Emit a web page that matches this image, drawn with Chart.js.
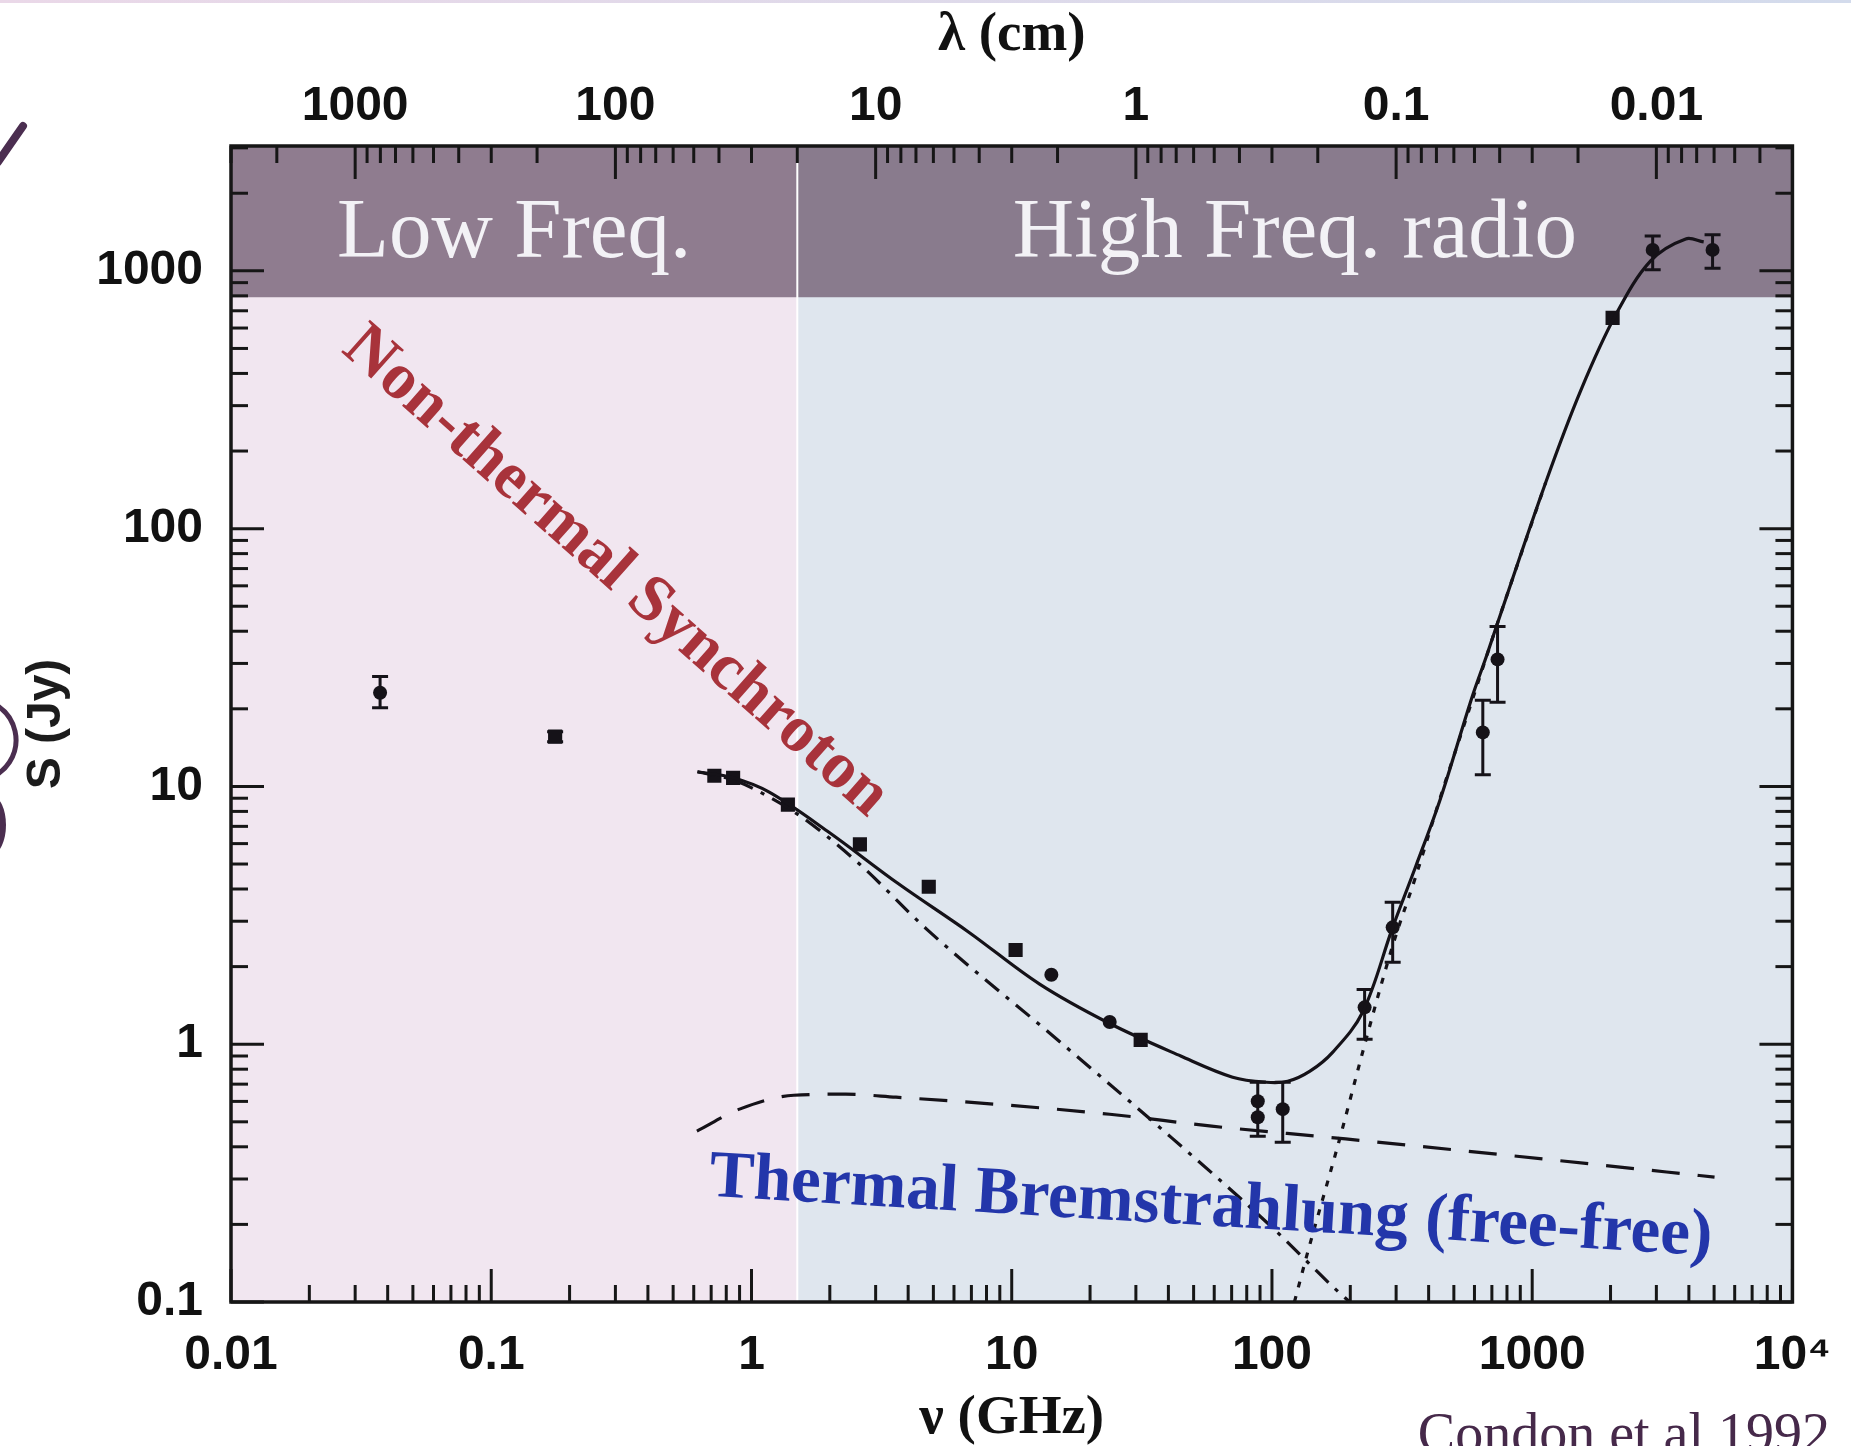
<!DOCTYPE html>
<html>
<head>
<meta charset="utf-8">
<title>Espectro rádio - Condon et al 1992</title>
<script src="https://cdn.jsdelivr.net/npm/chart.js@4.4.1/dist/chart.umd.min.js"></script>
<style>
    html, body { margin: 0; padding: 0; background: #ffffff; }
    #wrap { position: relative; width: 1851px; height: 1446px; }
</style>
</head>
<body>
<div id="wrap"><canvas id="grafico" width="1851" height="1446"></canvas></div>
<script>
// Eixos
const nuTicks = [0.01, 0.1, 1, 10, 100, 1000, 10000];
const nuTickLabels = ['0.01', '0.1', '1', '10', '100', '1000', '10⁴'];
const lambdaTicks = [1000, 100, 10, 1, 0.1, 0.01];
const lambdaTickLabels = ['1000', '100', '10', '1', '0.1', '0.01'];
const fluxTicks = [0.1, 1, 10, 100, 1000];
const fluxTickLabels = ['0.1', '1', '10', '100', '1000'];
const minorSteps = [2, 3, 4, 5, 6, 7, 8, 9];

const nuMin = 0.01, nuMax = 10000;
const fluxMin = 0.1, fluxMax = 3050;
const lambdaMin = 0.003, lambdaMax = 3000;

// Regiões do fundo
const splitNu = 1.5;          // divisão Low / High Freq.
const bandFloorFlux = 790;    // base da faixa roxa

// Curva total (linha cheia)
const totalNu   = [0.62, 0.85, 1.17, 1.96, 3.66, 6.84, 12.8, 23.9, 44.6, 70.6, 95, 115, 140, 171, 223, 291, 357, 443, 583, 667, 730, 1127, 1536, 2094, 2851, 3890, 4560];
const totalFlux = [11.4, 10.8, 9.5, 6.7, 4.2, 2.72, 1.71, 1.2, 0.9, 0.745, 0.712, 0.718, 0.786, 0.93, 1.33, 2.84, 4.9, 8.9, 21.7, 32, 42, 151, 343, 675, 1093, 1330, 1295];

// Síncrotron (traço-ponto)
const synchNu   = [0.62, 0.85, 1.17, 1.59, 2.6, 4.72, 13.9, 35.8, 100, 174, 199];
const synchFlux = [11.4, 10.6, 9.1, 7.5, 5.0, 2.79, 1.11, 0.49, 0.195, 0.113, 0.1];

// Free-free (tracejada)
const freeNu   = [0.617, 0.9, 1.455, 2.3, 3.59, 9.66, 23.8, 58.7, 192, 1127, 5020];
const freeFlux = [0.46, 0.56, 0.634, 0.64, 0.623, 0.58, 0.535, 0.481, 0.429, 0.358, 0.305];

// Poeira (pontilhada)
const dustNu   = [122, 136, 182, 223, 262, 296, 357, 441, 583, 730, 1127];
const dustFlux = [0.1, 0.151, 0.429, 0.93, 1.68, 2.55, 4.48, 8.9, 21, 42, 151];

// Medidas (círculos)
const circleNu   = [0.0374, 14.2, 23.8, 88.2, 88.2, 110, 227, 291, 646, 736, 2904, 4933];
const circleFlux = [23.1, 1.86, 1.22, 0.601, 0.521, 0.56, 1.39, 2.84, 16.2, 31.1, 1206, 1206];
const circleLo   = [20.2, null, null, 0.44, null, 0.417, 1.045, 2.08, 11.1, 21.2, 1009, 1023];
const circleHi   = [26.7, null, null, 0.712, null, 0.712, 1.63, 3.55, 21.6, 41.7, 1365, 1380];

// Medidas (quadrados)
const squareNu   = [0.176, 0.72, 0.85, 1.38, 2.61, 4.8, 10.35, 31.3, 2037];
const squareFlux = [15.6, 11.0, 10.8, 8.5, 5.96, 4.08, 2.32, 1.04, 657];
const squareLo   = [14.9, null, null, null, null, null, null, null, null];
const squareHi   = [16.3, null, null, null, null, null, null, null, null];

// Textos
const synchLabel = { text: 'Non-thermal Synchroton', nu: 0.30, flux: 68, angle: 41.5 };
const freeLabel  = { text: 'Thermal Bremstrahlung (free-free)', nu: 58.2, flux: 0.231, angle: 3.4 };

const corTinta = '#151218';

function pares(xs, ys) {
    return xs.map((x, i) => ({ x: x, y: ys[i] }));
}

// Ticks maiores + menores de uma escala log
function ticksLog(majors, lo, hi) {
    const lista = majors.map(v => ({ value: v, major: true }));
    const k0 = Math.floor(Math.log10(lo));
    const k1 = Math.floor(Math.log10(hi));
    for (let k = k0; k <= k1; k++) {
        minorSteps.forEach(m => {
            const v = m * Math.pow(10, k);
            if (v >= lo * 0.999 && v <= hi * 1.001) lista.push({ value: v, major: false });
        });
    }
    return lista.filter(t => t.value >= lo * 0.999 && t.value <= hi * 1.001).sort((a, b) => a.value - b.value);
}

function rotulo(majors, labels) {
    return function (value) {
        const i = majors.findIndex(m => Math.abs(Math.log10(m) - Math.log10(value)) < 1e-6);
        return i >= 0 ? labels[i] : '';
    };
}

const fonteTicks = { family: '"Liberation Sans", Arial, sans-serif', size: 48, weight: 'bold' };
const fonteTicksBaixo = { family: '"Liberation Sans", Arial, sans-serif', size: 48, weight: 'bold', lineHeight: 1.4 };
const fonteTitulo = { family: '"Liberation Serif", "DejaVu Serif", serif', size: 55, weight: 'bold', lineHeight: 1 };

const pluginFigura = {
    id: 'figura',
    beforeDraw(chart) {
        const ctx = chart.ctx;
        ctx.save();
        ctx.fillStyle = '#ffffff';
        ctx.fillRect(0, 0, chart.width, chart.height);
        const g = ctx.createLinearGradient(0, 0, chart.width, 0);
        g.addColorStop(0, '#ead8e8');
        g.addColorStop(1, '#d3dbec');
        ctx.fillStyle = g;
        ctx.fillRect(0, 0, chart.width, 3);
        ctx.restore();
    },
    beforeDatasetsDraw(chart) {
        const { ctx, chartArea: a, scales } = chart;
        const xs = scales.x.getPixelForValue(splitNu);
        const yb = scales.y.getPixelForValue(bandFloorFlux);
        ctx.save();
        ctx.fillStyle = '#f1e6f0';
        ctx.fillRect(a.left, a.top, xs - a.left, a.bottom - a.top);
        ctx.fillStyle = '#dfe6ee';
        ctx.fillRect(xs, a.top, a.right - xs, a.bottom - a.top);
        ctx.fillStyle = '#8f7c8f';
        ctx.fillRect(a.left, a.top, xs - a.left, yb - a.top);
        ctx.fillStyle = '#897b8d';
        ctx.fillRect(xs, a.top, a.right - xs, yb - a.top);
        ctx.strokeStyle = '#ffffff';
        ctx.lineWidth = 2;
        ctx.beginPath();
        ctx.moveTo(xs, a.top);
        ctx.lineTo(xs, a.bottom);
        ctx.stroke();

        // textos da faixa
        ctx.fillStyle = '#f3f2f6';
        ctx.font = '85px "Liberation Serif", "DejaVu Serif", serif';
        ctx.textAlign = 'center';
        ctx.textBaseline = 'alphabetic';
        ctx.fillText('Low Freq.', (a.left + xs) / 2, yb - 40);
        ctx.fillText('High Freq. radio', (xs + a.right) / 2, yb - 40);

        // barras de erro
        ctx.strokeStyle = corTinta;
        ctx.lineWidth = 3;
        const barras = (nus, los, his) => {
            nus.forEach((nu, i) => {
                if (los[i] == null) return;
                const px = scales.x.getPixelForValue(nu);
                const y1 = scales.y.getPixelForValue(los[i]);
                const y2 = scales.y.getPixelForValue(his[i]);
                ctx.beginPath();
                ctx.moveTo(px, y1); ctx.lineTo(px, y2);
                ctx.moveTo(px - 8, y1); ctx.lineTo(px + 8, y1);
                ctx.moveTo(px - 8, y2); ctx.lineTo(px + 8, y2);
                ctx.stroke();
            });
        };
        barras(circleNu, circleLo, circleHi);
        barras(squareNu, squareLo, squareHi);
        ctx.restore();
    },
    afterDatasetsDraw(chart) {
        const { ctx, chartArea: a, scales } = chart;
        ctx.save();
        ctx.strokeStyle = '#161616';
        ctx.lineWidth = 3;
        ctx.lineCap = 'butt';

        // ticks para dentro nos quatro lados
        const marcar = (scale, lado) => {
            scale.ticks.forEach(t => {
                const len = t.major ? 33 : 17;
                const p = scale.getPixelForValue(t.value);
                ctx.beginPath();
                if (lado === 'bottom') { ctx.moveTo(p, a.bottom); ctx.lineTo(p, a.bottom - len); }
                if (lado === 'top') { ctx.moveTo(p, a.top); ctx.lineTo(p, a.top + len); }
                if (lado === 'left') { ctx.moveTo(a.left, p); ctx.lineTo(a.left + len, p); }
                if (lado === 'right') { ctx.moveTo(a.right, p); ctx.lineTo(a.right - len, p); }
                ctx.stroke();
            });
        };
        marcar(scales.x, 'bottom');
        marcar(scales.x2, 'top');
        marcar(scales.y, 'left');
        marcar(scales.y, 'right');

        ctx.lineWidth = 3.5;
        ctx.strokeRect(a.left, a.top, a.right - a.left, a.bottom - a.top);

        // rótulos das componentes
        const escrever = (lab, cor, tamanho) => {
            ctx.save();
            ctx.translate(scales.x.getPixelForValue(lab.nu), scales.y.getPixelForValue(lab.flux));
            ctx.rotate(lab.angle * Math.PI / 180);
            ctx.fillStyle = cor;
            ctx.font = 'bold ' + tamanho + 'px "Liberation Serif", "DejaVu Serif", serif';
            ctx.textAlign = 'center';
            ctx.textBaseline = 'middle';
            ctx.fillText(lab.text, 0, 0);
            ctx.restore();
        };
        escrever(synchLabel, '#a8333b', 66);
        escrever(freeLabel, '#2336aa', 67);
        ctx.restore();
    },
    afterDraw(chart) {
        const ctx = chart.ctx;
        ctx.save();
        ctx.fillStyle = '#46294a';
        ctx.font = '56px "Liberation Serif", "DejaVu Serif", serif';
        ctx.textAlign = 'right';
        ctx.textBaseline = 'alphabetic';
        ctx.fillText('Condon et al 1992', 1830, 1452);

        // restos do slide na borda esquerda
        ctx.strokeStyle = '#4b2e50';
        ctx.fillStyle = '#4b2e50';
        ctx.lineCap = 'round';
        ctx.lineWidth = 8;
        ctx.beginPath();
        ctx.moveTo(23, 126);
        ctx.lineTo(-2, 162);
        ctx.stroke();
        ctx.lineWidth = 5;
        ctx.beginPath();
        ctx.arc(-25, 740, 41, -1.0, 1.0);
        ctx.stroke();
        ctx.beginPath();
        ctx.ellipse(-8, 825, 14, 29, 0, 0, 2 * Math.PI);
        ctx.fill();
        ctx.restore();
    }
};

function criarGrafico() {
    const ctx = document.getElementById('grafico').getContext('2d');
    const linha = (nus, fluxes, dash, suave) => ({
        type: 'line',
        data: pares(nus, fluxes),
        borderColor: corTinta,
        borderWidth: 3.2,
        borderDash: dash,
        pointRadius: 0,
        fill: false,
        tension: suave ? 0.35 : 0,
        cubicInterpolationMode: suave ? 'default' : 'monotone'
    });

    new Chart(ctx, {
        type: 'scatter',
        data: {
            datasets: [
                linha(totalNu, totalFlux, [], true),
                linha(synchNu, synchFlux, [18, 9, 4, 9], false),
                linha(freeNu, freeFlux, [28, 18], false),
                linha(dustNu, dustFlux, [6, 9], false),
                {
                    data: pares(circleNu, circleFlux),
                    pointStyle: 'circle',
                    pointRadius: 7,
                    backgroundColor: corTinta,
                    borderWidth: 0
                },
                {
                    data: pares(squareNu, squareFlux),
                    pointStyle: 'rect',
                    pointRadius: 10,
                    backgroundColor: corTinta,
                    borderWidth: 0
                }
            ]
        },
        options: {
            responsive: false,
            animation: false,
            devicePixelRatio: 1,
            layout: { padding: { left: 0, right: 58, top: 0, bottom: 0 } },
            plugins: { legend: { display: false }, tooltip: { enabled: false } },
            scales: {
                x: {
                    type: 'logarithmic',
                    position: 'bottom',
                    min: nuMin,
                    max: nuMax,
                    afterBuildTicks: s => { s.ticks = ticksLog(nuTicks, nuMin, nuMax); },
                    afterFit: s => { s.height = 144; },
                    grid: { display: false, drawTicks: false },
                    border: { display: false },
                    ticks: {
                        autoSkip: false, maxRotation: 0, minRotation: 0, padding: 20,
                        color: '#111111', font: fonteTicksBaixo,
                        callback: rotulo(nuTicks, nuTickLabels)
                    },
                    title: {
                        display: true, text: 'ν (GHz)', color: '#111111',
                        font: fonteTitulo,
                        padding: { top: 0, bottom: 0 }
                    }
                },
                x2: {
                    type: 'logarithmic',
                    position: 'top',
                    reverse: true,
                    min: lambdaMin,
                    max: lambdaMax,
                    afterBuildTicks: s => { s.ticks = ticksLog(lambdaTicks, lambdaMin, lambdaMax); },
                    afterFit: s => { s.height = 146; },
                    grid: { display: false, drawTicks: false },
                    border: { display: false },
                    ticks: {
                        autoSkip: false, maxRotation: 0, minRotation: 0, padding: 10,
                        color: '#111111', font: fonteTicks,
                        callback: rotulo(lambdaTicks, lambdaTickLabels)
                    },
                    title: {
                        display: true, text: 'λ (cm)', color: '#111111',
                        font: fonteTitulo,
                        padding: { top: 8, bottom: 0 }
                    }
                },
                y: {
                    type: 'logarithmic',
                    position: 'left',
                    min: fluxMin,
                    max: fluxMax,
                    afterBuildTicks: s => { s.ticks = ticksLog(fluxTicks, fluxMin, fluxMax); },
                    afterFit: s => { s.width = 231; },
                    grid: { display: false, drawTicks: false },
                    border: { display: false },
                    ticks: {
                        autoSkip: false, padding: 28,
                        color: '#111111', font: fonteTicks,
                        callback: rotulo(fluxTicks, fluxTickLabels)
                    },
                    title: {
                        display: true, text: 'S (Jy)', color: '#1c1c1c',
                        font: { family: '"Liberation Sans", Arial, sans-serif', size: 48, weight: 'bold', lineHeight: 1 },
                        padding: { top: 23, bottom: 0 }
                    }
                }
            }
        },
        plugins: [pluginFigura]
    });
}

criarGrafico();
</script>
</body>
</html>
